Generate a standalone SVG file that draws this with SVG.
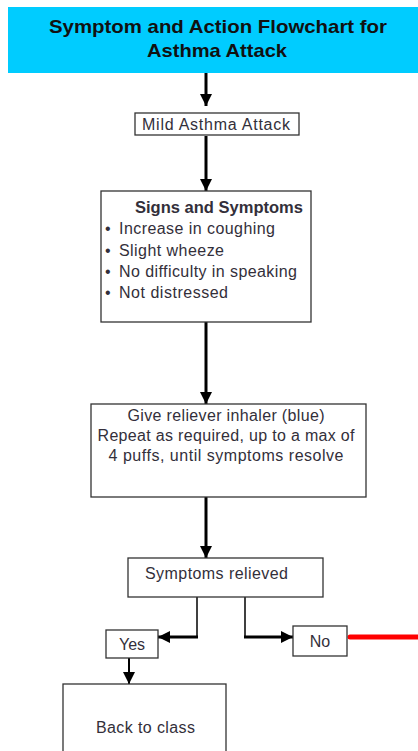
<svg xmlns="http://www.w3.org/2000/svg" width="418" height="751" viewBox="0 0 418 751">
<style>
.box{fill:#fff;stroke:#333;stroke-width:1.3}
.t{font-family:"Liberation Sans",Arial,sans-serif;font-size:16px;fill:#332f3a}
.c{text-anchor:middle}
.title{font-family:"Liberation Sans",Arial,sans-serif;font-size:19px;font-weight:bold;fill:#111;text-anchor:middle}
.thick{stroke:#000;stroke-width:3;fill:none}
.thin{stroke:#000;stroke-width:1.5;fill:none}
</style>
<defs>
<marker id="ah" markerUnits="userSpaceOnUse" markerWidth="12" markerHeight="12" viewBox="0 0 12 12" refX="12" refY="6" orient="auto">
<path d="M0,0 L12,6 L0,12 Z" fill="#000"/>
</marker>
</defs>
<rect width="418" height="751" fill="#fff"/>
<g id="title">
<rect x="8" y="7" width="412" height="66" fill="#00CCFF"/>
<text class="title" x="218" y="33" textLength="338" lengthAdjust="spacingAndGlyphs">Symptom and Action Flowchart for</text>
<text class="title" x="217" y="57" textLength="140" lengthAdjust="spacingAndGlyphs">Asthma Attack</text>
</g>
<g id="connectors">
<line class="thick" x1="206" y1="73" x2="206" y2="106" marker-end="url(#ah)"/>
<line class="thick" x1="206" y1="136" x2="206" y2="191" marker-end="url(#ah)"/>
<line class="thick" x1="206" y1="316" x2="206" y2="404" marker-end="url(#ah)"/>
<line class="thick" x1="206" y1="497" x2="206" y2="558" marker-end="url(#ah)"/>
<polyline class="thin" points="197,597 197,637"/>
<line class="thick" x1="198" y1="637" x2="158" y2="637" marker-end="url(#ah)"/>
<polyline class="thin" points="245,597 245,637"/>
<line class="thick" x1="244" y1="637" x2="293" y2="637" marker-end="url(#ah)"/>
<line stroke="#000" stroke-width="2" x1="129" y1="658" x2="129" y2="684" marker-end="url(#ah)"/>
<line stroke="#FF0000" stroke-width="5" stroke-linecap="round" x1="350" y1="637" x2="420" y2="637"/>
</g>
<g id="mild">
<rect class="box" x="135" y="113" width="164" height="22"/>
<text class="t" x="142" y="130" textLength="148" lengthAdjust="spacing">Mild Asthma Attack</text>
</g>
<g id="signs">
<rect class="box" x="101" y="191" width="210" height="131"/>
<text class="t c" x="219" y="213" font-weight="bold" textLength="168" lengthAdjust="spacingAndGlyphs">Signs and Symptoms</text>
<text class="t" x="105" y="234">•</text>
<text class="t" x="119" y="234" textLength="156" lengthAdjust="spacing">Increase in coughing</text>
<text class="t" x="105" y="256">•</text>
<text class="t" x="119" y="256" textLength="105" lengthAdjust="spacing">Slight wheeze</text>
<text class="t" x="105" y="277">•</text>
<text class="t" x="119" y="277" textLength="178" lengthAdjust="spacing">No difficulty in speaking</text>
<text class="t" x="105" y="298">•</text>
<text class="t" x="119" y="298" textLength="109" lengthAdjust="spacing">Not distressed</text>
</g>
<g id="give">
<rect class="box" x="91" y="404" width="275" height="93"/>
<text class="t c" x="226" y="421" textLength="197" lengthAdjust="spacing">Give reliever inhaler (blue)</text>
<text class="t c" x="226" y="441" textLength="257" lengthAdjust="spacing">Repeat as required, up to a max of</text>
<text class="t c" x="226" y="461" textLength="235" lengthAdjust="spacing">4 puffs, until symptoms resolve</text>
</g>
<g id="relieved">
<rect class="box" x="128" y="558" width="195" height="39"/>
<text class="t" x="145" y="579" textLength="143" lengthAdjust="spacing">Symptoms relieved</text>
</g>
<g id="yes">
<rect class="box" x="106" y="630" width="52" height="28"/>
<text class="t c" x="132" y="650">Yes</text>
</g>
<g id="no">
<rect class="box" x="293" y="626" width="54" height="30"/>
<text class="t c" x="320" y="647">No</text>
</g>
<g id="back">
<rect class="box" x="63" y="684" width="163" height="80"/>
<text class="t" x="96" y="733" textLength="99" lengthAdjust="spacing">Back to class</text>
</g>
</svg>
